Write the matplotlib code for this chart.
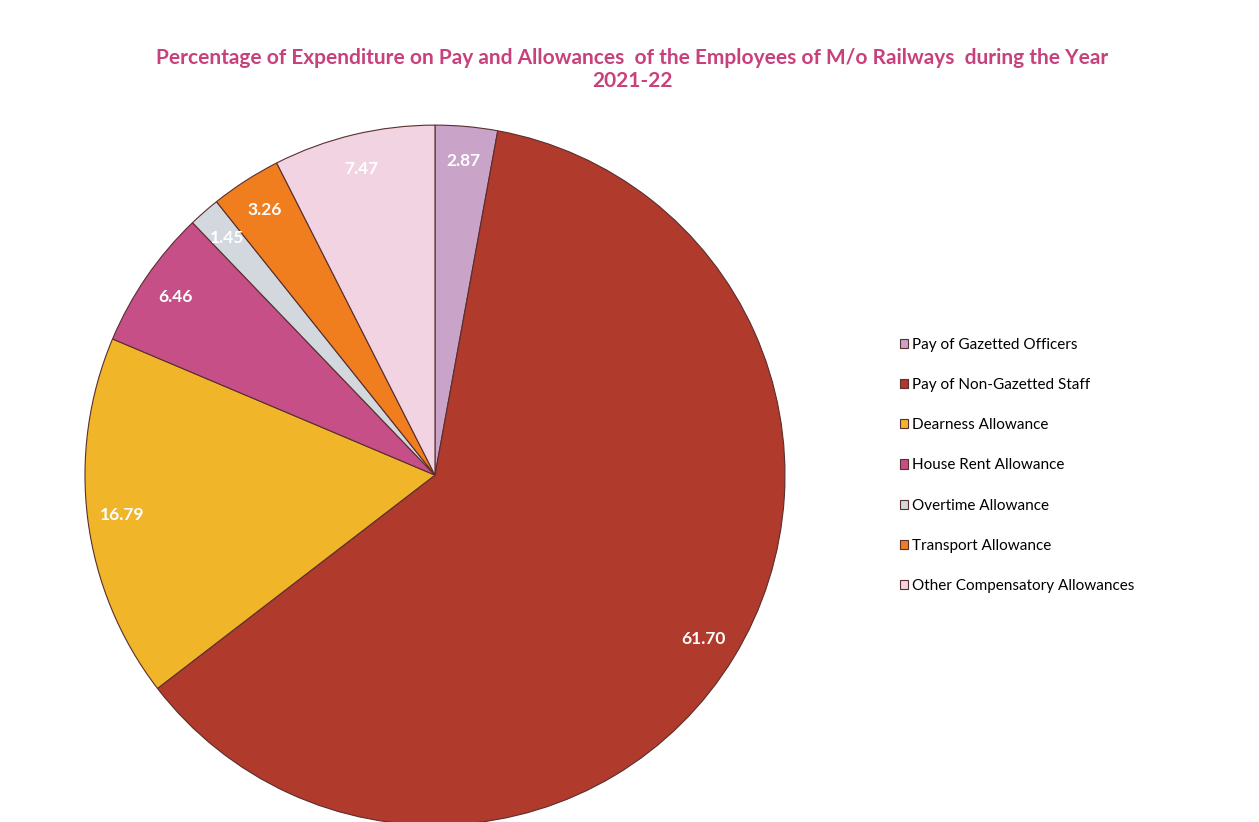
import numpy as np
import matplotlib.pyplot as plt

categories = ['Pay of Gazetted Officers', 'Pay of Non-Gazetted Staff', 'Dearness Allowance',
              'House Rent Allowance', 'Overtime Allowance', 'Transport Allowance',
              'Other Compensatory Allowances']
values = [2.87, 61.70, 16.79, 6.46, 1.45, 3.26, 7.47]
colors = ['#c9a3c8', '#b03a2c', '#f1b52a', '#c64f88', '#d3d7de', '#f07e1f', '#f2d3e2']

plt.rcParams['font.family'] = ['Lato', 'DejaVu Sans']

fig = plt.figure(figsize=(12.59, 8.22), dpi=100)
ax = fig.add_axes([0.0675, -0.004, 0.556, 0.852])

wedges, texts = ax.pie(values, colors=colors, startangle=90, counterclock=False,
                       radius=1, wedgeprops=dict(edgecolor='#5a2e2e', linewidth=0.8))
for w, v in zip(wedges, values):
    ang = np.deg2rad((w.theta1 + w.theta2) / 2)
    ax.text(0.9 * np.cos(ang), 0.9 * np.sin(ang), f'{v:.2f}', color='white',
            fontsize=12.5, fontweight='bold', ha='center', va='center')
ax.set_xlim(-1, 1)
ax.set_ylim(-1, 1)
ax.set_aspect('equal')
ax.axis('off')

fig.text(0.502, 0.930, 'Percentage of Expenditure on Pay and Allowances  of the Employees of M/o Railways  during the Year',
         ha='center', va='center', color='#c8407c', fontsize=15, fontweight='bold')
fig.text(0.502, 0.901, '2021-22', ha='center', va='center', color='#c8407c',
         fontsize=15, fontweight='bold')

fig.legend(wedges, categories, loc='upper left', bbox_to_anchor=(0.704, 0.606),
           frameon=False, fontsize=11, labelspacing=1.72, handlelength=0.55,
           handleheight=0.55, handletextpad=0.25)

fig.savefig('out.png', dpi=100)
